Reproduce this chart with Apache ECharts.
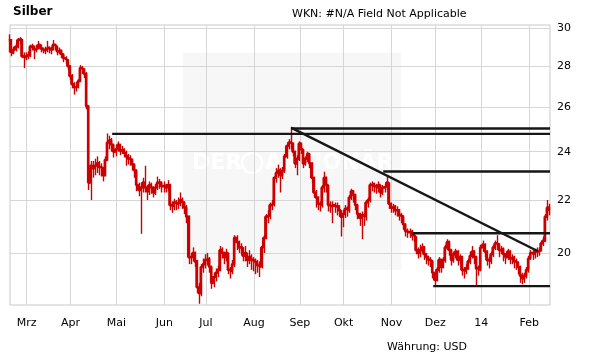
<!DOCTYPE html>
<html><head><meta charset="utf-8">
<script src="https://cdn.jsdelivr.net/npm/echarts@6/dist/echarts.min.js"></script>
<style>html,body{margin:0;padding:0;background:#fff}#c{width:611px;height:364px}</style>
</head><body><div id="c"></div>
<script>
// ---- data ----
const startDate = '2013-02-19';   // first trading day shown
const dayCount = 260;             // weekdays shown
const monthLabels = ['14','Feb','Mrz','Apr','Mai','Jun','Jul','Aug','Sep','Okt','Nov','Dez'];
const yTicks = [20, 22, 24, 26, 28, 30];

const closes = [
29.4,28.7,28.85,29.0,29.35,29.4,28.5,28.45,28.55,28.55,
29.0,29.0,28.85,28.95,29.1,28.9,28.8,28.85,28.95,28.85,
28.85,29.1,29.0,28.75,28.8,28.6,28.4,28.3,28.0,27.5,
27.1,26.95,27.0,27.25,27.9,27.8,27.6,26.05,22.7,23.4,
23.3,23.4,23.5,23.35,23.3,23.0,23.65,24.4,24.5,24.3,
24.0,24.1,24.3,24.05,24.1,23.95,23.8,23.7,23.65,23.45,
23.2,22.6,22.4,22.5,22.7,22.5,22.35,22.6,22.5,22.3,
22.5,22.7,22.7,22.55,22.6,22.5,22.6,21.8,21.75,21.9,
21.85,21.9,22.0,21.9,21.7,21.35,19.85,19.85,20.0,19.7,
18.8,18.6,19.5,19.6,19.75,19.8,19.5,18.95,19.15,19.3,
19.4,20.1,20.0,19.85,20.0,19.4,19.35,19.6,20.55,20.4,
20.2,20.2,19.9,20.0,19.75,19.85,19.75,19.7,19.65,19.55,
19.5,20.2,20.55,21.35,21.4,21.8,21.85,22.9,23.1,23.2,
23.0,23.2,23.8,24.25,24.4,24.35,24.0,23.5,23.7,24.35,
24.1,23.5,23.7,23.9,23.5,22.9,22.3,22.1,21.85,21.8,
22.5,22.9,22.6,21.8,21.75,21.8,21.75,21.75,21.6,21.35,
21.45,21.65,21.6,22.1,22.35,22.2,21.8,21.45,21.3,21.4,
21.35,21.9,22.0,22.6,22.65,22.55,22.5,22.6,22.3,22.5,
22.55,22.7,21.85,21.7,21.75,21.6,21.6,21.4,21.35,21.05,
20.8,20.75,20.8,20.65,20.6,20.1,20.0,20.1,20.2,19.95,
19.85,19.75,19.7,19.3,19.05,19.4,19.75,19.5,19.75,20.2,
20.4,20.1,19.75,19.95,20.05,19.75,19.85,19.4,19.35,19.45,
19.7,19.9,20.05,19.85,19.45,19.4,20.2,20.3,20.05,19.75,
19.7,19.95,20.2,20.35,20.3,20.1,20.15,19.95,19.85,20.05,
19.8,19.85,19.7,19.65,19.5,19.2,19.1,19.2,19.4,19.8,
20.0,19.95,20.05,20.05,20.1,20.35,20.45,21.35,21.7,21.6];

const highs = [
29.65,29.4,29.0,29.15,29.45,29.5,29.4,28.7,28.7,28.75,
29.1,29.15,29.05,29.1,29.3,29.1,28.95,29.0,29.3,29.0,
29.0,29.35,29.15,29.0,28.95,28.85,28.65,28.5,28.35,28.05,
27.6,27.2,27.2,27.35,28.05,28.0,27.9,27.7,26.1,23.6,
23.6,23.7,23.8,23.6,23.5,23.35,23.8,24.8,24.7,24.6,
24.35,24.3,24.45,24.35,24.25,24.15,24.05,23.9,23.85,23.7,
23.5,23.25,22.7,22.7,22.9,23.4,22.6,22.75,22.7,22.55,
22.65,22.95,22.85,22.75,22.75,22.65,22.8,22.65,21.95,22.05,
22.0,22.1,22.3,22.1,21.95,21.8,21.4,20.0,20.2,20.05,
19.75,18.95,19.6,19.8,19.95,20.0,19.85,19.55,19.3,19.45,
19.55,20.25,20.2,20.05,20.15,20.0,19.5,19.75,20.65,20.65,
20.45,20.35,20.2,20.25,20.0,20.1,19.95,19.85,19.8,19.75,
19.7,20.3,20.65,21.45,21.6,21.9,22.0,22.95,23.3,23.45,
23.3,23.35,23.9,24.35,24.55,25.1,24.4,24.05,23.85,24.45,
24.4,24.1,23.8,24.0,23.95,23.55,22.95,22.4,22.15,21.95,
22.6,23.15,22.95,22.6,21.95,21.95,21.9,21.9,21.8,21.6,
21.6,21.8,21.75,22.2,22.45,22.4,22.25,21.85,21.5,21.55,
21.5,22.0,22.1,22.7,22.75,22.7,22.65,22.75,22.6,22.6,
22.65,23.0,22.7,21.9,21.85,21.8,21.75,21.65,21.5,21.4,
21.1,20.9,20.9,20.85,20.7,20.6,20.2,20.3,20.35,20.25,
20.0,19.9,19.85,19.75,19.35,19.5,19.85,19.8,19.85,20.3,
20.5,20.45,20.15,20.05,20.15,20.1,19.95,19.9,19.5,19.6,
19.8,20.05,20.25,20.1,19.9,19.55,20.3,20.45,20.35,20.1,
19.85,20.05,20.3,20.45,20.65,20.35,20.25,20.2,20.0,20.15,
20.1,19.95,19.9,19.8,19.7,19.55,19.3,19.3,19.5,19.9,
20.1,20.1,20.15,20.2,20.2,20.45,20.6,21.45,22.0,21.85];

const lows = [
28.7,28.5,28.6,28.75,28.9,29.1,28.4,27.9,28.3,28.35,
28.45,28.8,28.35,28.7,28.85,28.7,28.65,28.6,28.7,28.65,
28.6,28.8,28.8,28.55,28.6,28.4,28.2,28.1,27.8,27.3,
26.9,26.6,26.75,26.9,27.2,27.6,27.4,25.9,22.4,22.0,
22.9,23.0,23.1,23.0,22.95,22.75,22.95,23.6,24.1,24.0,
23.75,23.8,24.0,23.85,23.9,23.75,23.4,23.45,23.4,23.2,
22.9,22.35,22.15,20.7,22.3,22.3,22.0,22.2,22.25,22.1,
22.2,22.4,22.45,22.3,22.3,22.3,22.35,21.6,21.5,21.6,
21.6,21.65,21.75,21.65,21.45,21.1,19.6,19.6,19.7,19.5,
18.6,18.25,18.5,19.3,19.45,19.55,19.3,18.75,18.8,19.0,
19.15,19.35,19.8,19.6,19.7,19.25,19.1,19.25,19.5,20.1,
20.0,19.95,19.7,19.7,19.5,19.6,19.4,19.35,19.25,19.3,
19.15,19.45,20.0,20.5,21.1,21.25,21.6,21.75,22.7,22.9,
22.3,22.85,23.1,23.7,24.1,24.1,23.8,23.3,23.0,23.6,
23.9,23.3,23.4,23.55,23.3,22.7,22.1,21.7,21.6,21.55,
21.7,22.3,22.3,21.55,21.5,21.1,21.5,21.4,21.35,20.6,
20.95,21.3,21.35,21.5,22.0,21.9,21.6,21.25,21.0,20.5,
21.0,21.2,21.7,21.9,22.35,22.3,22.25,22.3,22.1,22.2,
22.3,22.4,21.65,21.5,21.5,21.4,21.35,21.2,21.1,20.85,
20.6,20.55,20.55,20.45,20.4,19.95,19.8,19.85,19.95,19.75,
19.6,19.55,19.5,19.1,18.85,19.0,19.3,19.3,19.45,19.65,
20.1,19.9,19.55,19.65,19.8,19.55,19.6,19.2,19.1,19.25,
19.4,19.6,19.8,19.6,18.85,19.2,19.35,20.05,19.85,19.55,
19.45,19.6,19.85,20.1,20.1,19.85,19.95,19.7,19.6,19.75,
19.6,19.6,19.45,19.4,19.25,18.95,18.9,18.95,19.1,19.3,
19.75,19.75,19.8,19.85,19.9,20.05,20.25,20.4,21.2,21.4];

// trend lines drawn on the chart
const trendFrom      = ['2013-04-29','2013-08-27','2013-08-27','2013-10-28','2013-11-15','2013-11-29'];
const trendTo        = ['2014-02-17','2014-02-17','2014-02-07','2014-02-17','2014-02-17','2014-02-17'];
const trendFromValue = [24.78, 25.02, 25.05, 23.16, 20.72, 18.84];
const trendToValue   = [24.78, 25.02, 20.07, 23.16, 20.72, 18.84];

// ---- categories: weekdays ----
const dates = [];
(function(){
  const p = startDate.split('-').map(Number);
  const d = new Date(Date.UTC(p[0], p[1]-1, p[2]));
  while (dates.length < dayCount) {
    const wd = d.getUTCDay();
    if (wd !== 0 && wd !== 6) dates.push(d.toISOString().slice(0,10));
    d.setUTCDate(d.getUTCDate()+1);
  }
})();
const isMonthStart = dates.map((s,i) => i > 0 && s.slice(0,7) !== dates[i-1].slice(0,7));

const FONT = 'DejaVu Sans';
const RED = '#cc0000';

const trendSeries = trendFrom.map((f,k) => ({
  type:'line', data:[[f, trendFromValue[k]],[trendTo[k], trendToValue[k]]],
  symbol:'none', silent:true, z:5,
  lineStyle:{color:'#161616', width:2.4}
}));

const chart = echarts.init(document.getElementById('c'), null, {renderer:'canvas'});
chart.setOption({
  animation:false,
  textStyle:{fontFamily:FONT},
  title:[
    {text:'Silber', left:13, top:6, padding:0, textStyle:{fontFamily:FONT, fontSize:12, fontWeight:'bold', color:'#000'}},
    {text:'WKN: #N/A Field Not Applicable', left:292, top:9, padding:0, textStyle:{fontFamily:FONT, fontSize:11, fontWeight:'normal', color:'#000'}},
    {text:'Währung: USD', left:387, top:342, padding:0, textStyle:{fontFamily:FONT, fontSize:11, fontWeight:'normal', color:'#000'}}
  ],
  grid:{left:10, right:61, top:25, bottom:59, show:true, borderColor:'#c8c8c8', borderWidth:1, backgroundColor:'transparent'},
  graphic:[
    {type:'rect', z:-10, silent:true, shape:{x:183, y:53, width:218, height:217}, style:{fill:'#f7f7f7'}},
    {type:'text', z:-9, silent:true, x:192, y:163, style:{text:'DER', fill:'#ffffff', font:'bold 22px DejaVu Sans', verticalAlign:'middle'}},
    {type:'circle', z:-9, silent:true, shape:{cx:252, cy:163, r:10}, style:{fill:'none', stroke:'#ffffff', lineWidth:2.5}},
    {type:'text', z:-9, silent:true, x:265, y:163, style:{text:'AKTIONÄR', fill:'#ffffff', font:'bold 22px DejaVu Sans', verticalAlign:'middle'}}
  ],
  xAxis:{
    type:'category', data:dates, boundaryGap:false,
    axisLine:{show:false}, axisTick:{show:false},
    axisLabel:{interval:(i)=>isMonthStart[i], formatter:(v)=>monthLabels[+v.slice(5,7)-1],
               color:'#000', fontSize:11, fontFamily:FONT, margin:13},
    splitLine:{show:true, interval:(i)=>isMonthStart[i], lineStyle:{color:'#d6d6d6', width:1}}
  },
  yAxis:{
    type:'log', position:'right', min:18.21, max:30.15,
    axisLine:{show:false},
    axisTick:{show:false, customValues:yTicks},
    axisLabel:{customValues:yTicks, color:'#000', fontSize:11, fontFamily:FONT, margin:7},
    splitLine:{show:true, lineStyle:{color:'#d6d6d6', width:1}}
  },
  series:[
    {type:'candlestick', z:3, silent:true, barMaxWidth:2,
     data:closes.map((c,i)=>[c, c, lows[i], highs[i]]),
     itemStyle:{color:RED, color0:RED, borderColor:RED, borderColor0:RED, borderWidth:1.4}},
    {type:'line', z:4, data:closes, step:'middle', symbol:'none', silent:true,
     lineStyle:{color:RED, width:2.6}}
  ].concat(trendSeries)
});
</script></body></html>
